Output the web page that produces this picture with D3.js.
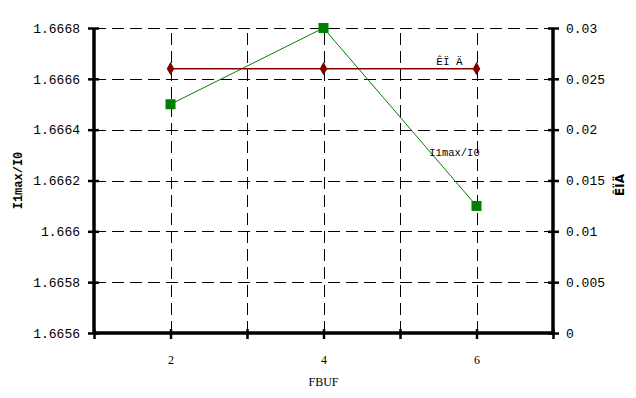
<!DOCTYPE html>
<html>
<head>
<meta charset="utf-8">
<script src="https://cdn.jsdelivr.net/npm/d3@7"></script>
<style>
  body { margin: 0; background: #fff; }
  text { font-family: "Liberation Mono", "Courier New", monospace; fill: #000; }
</style>
</head>
<body>
<div id="main"></div>
<script>
// data
var fbuf = [2, 4, 6];
var ratio = [1.6665, 1.6668, 1.6661];      // I1max/I0, left axis
var kpd = [0.026, 0.026, 0.026];           // ÊÏÄ, right axis
var leftTicks = [1.6656, 1.6658, 1.666, 1.6662, 1.6664, 1.6666, 1.6668];
var rightTicks = [0, 0.005, 0.01, 0.015, 0.02, 0.025, 0.03];
var xTicks = [1, 2, 3, 4, 5, 6, 7];
var xLabels = [2, 4, 6];

var W = 636, H = 398;
var margin = { top: 28, left: 94, right: 83, bottom: 65 };

var x = d3.scaleLinear().domain([1, 7]).range([margin.left, W - margin.right]);
var yL = d3.scaleLinear().domain([1.6656, 1.6668]).range([H - margin.bottom, margin.top]);
var yR = d3.scaleLinear().domain([0, 0.03]).range([H - margin.bottom, margin.top]);

var svg = d3.select("#main").append("svg")
	.attr("width", W)
	.attr("height", H);

// grid
var grid = svg.append("g").attr("stroke", "#000").attr("stroke-width", 1)
	.attr("stroke-dasharray", "12,6");
grid.selectAll(".hg")
	.data(leftTicks.slice(1))
	.enter().append("line")
	.attr("x1", x(1)).attr("x2", x(7))
	.attr("y1", function(d) { return Math.round(yL(d)) + 0.5; })
	.attr("y2", function(d) { return Math.round(yL(d)) + 0.5; });
grid.selectAll(".vg")
	.data(xTicks.slice(1, -1))
	.enter().append("line")
	.attr("y1", yL(1.6656)).attr("y2", yL(1.6668))
	.attr("x1", function(d) { return Math.round(x(d)) + 0.5; })
	.attr("x2", function(d) { return Math.round(x(d)) + 0.5; });

// axes
var fmt = function(d) { return String(+d.toFixed(6)); };

var axL = svg.append("g")
	.attr("transform", "translate(" + x(1) + ",0)")
	.call(d3.axisLeft(yL).tickValues(leftTicks).tickFormat(fmt).tickSize(4).tickPadding(10));
var axR = svg.append("g")
	.attr("transform", "translate(" + x(7) + ",0)")
	.call(d3.axisRight(yR).tickValues(rightTicks).tickFormat(fmt).tickSize(4).tickPadding(9));
var axB = svg.append("g")
	.attr("transform", "translate(0," + yL(1.6656) + ")")
	.call(d3.axisBottom(x).tickValues(xTicks)
		.tickFormat(function(d) { return xLabels.indexOf(d) >= 0 ? d : ""; })
		.tickSize(6).tickPadding(16));

[axL, axR, axB].forEach(function(a) {
	a.select(".domain").attr("stroke-width", 3.5);
	a.selectAll(".tick line").attr("stroke-width", 2.5);
});
axL.selectAll("text").style("font-size", "13px").style("font-family", "'Liberation Mono', monospace");
axR.selectAll("text").style("font-size", "13px").style("font-family", "'Liberation Mono', monospace");
axB.selectAll("text").style("font-size", "12px").style("font-family", "'Liberation Serif', serif");
// ticks poke out on both sides
axL.selectAll(".tick line").attr("x1", 5).attr("x2", -6);
axR.selectAll(".tick line").attr("x1", -5).attr("x2", 6);
axB.selectAll(".tick line").attr("y1", -4).attr("y2", 6);
axL.select(".domain").attr("d", "M0," + yL(1.6668) + "V" + yL(1.6656));
axR.select(".domain").attr("d", "M0," + yR(0.03) + "V" + yR(0));
axB.select(".domain").attr("d", "M" + x(1) + ",0H" + x(7));

// series
var lineL = d3.line()
	.x(function(d, i) { return x(fbuf[i]); })
	.y(function(d) { return yL(d); });
var lineR = d3.line()
	.x(function(d, i) { return x(fbuf[i]); })
	.y(function(d) { return yR(d); });

svg.append("path").datum(ratio)
	.attr("d", lineL).attr("fill", "none")
	.attr("stroke", "#008000").attr("stroke-width", 1);
svg.append("path").datum(kpd)
	.attr("d", lineR).attr("fill", "none")
	.attr("stroke", "#800000").attr("stroke-width", 1.5);

svg.selectAll(".sq")
	.data(ratio).enter().append("rect")
	.attr("x", function(d, i) { return x(fbuf[i]) - 5; })
	.attr("y", function(d) { return yL(d) - 5; })
	.attr("width", 10).attr("height", 10)
	.attr("fill", "#008000");
svg.selectAll(".dm")
	.data(kpd).enter().append("path")
	.attr("d", d3.symbol().type(d3.symbolDiamond).size(50))
	.attr("transform", function(d, i) { return "translate(" + x(fbuf[i]) + "," + yR(d) + ")"; })
	.attr("fill", "#800000");

// series labels
svg.append("text")
	.attr("x", x(6) - 27).attr("y", yR(kpd[2]) - 4)
	.attr("text-anchor", "middle")
	.style("font-size", "11px")
	.text("ÊÏ Ä");
svg.append("text")
	.attr("x", x(6) - 22).attr("y", 156)
	.attr("text-anchor", "middle")
	.style("font-size", "10.5px")
	.text("I1max/I0");

// axis titles
svg.append("text")
	.attr("transform", "translate(22," + (H - margin.bottom + margin.top) / 2 + ") rotate(-90)")
	.attr("text-anchor", "middle")
	.style("font-size", "12px").style("font-weight", "bold")
	.text("I1max/I0");
svg.append("text")
	.attr("transform", "translate(624," + 185 + ") rotate(-90)")
	.attr("text-anchor", "middle")
	.style("font-size", "12px").style("font-weight", "bold")
	.style("font-family", "'DejaVu Sans', sans-serif")
	.text("ÊÏÄ");
svg.append("text")
	.attr("x", x(4)).attr("y", 386)
	.attr("text-anchor", "middle")
	.style("font-size", "12px").style("font-family", "'Liberation Serif', serif")
	.text("FBUF");
</script>
</body>
</html>
